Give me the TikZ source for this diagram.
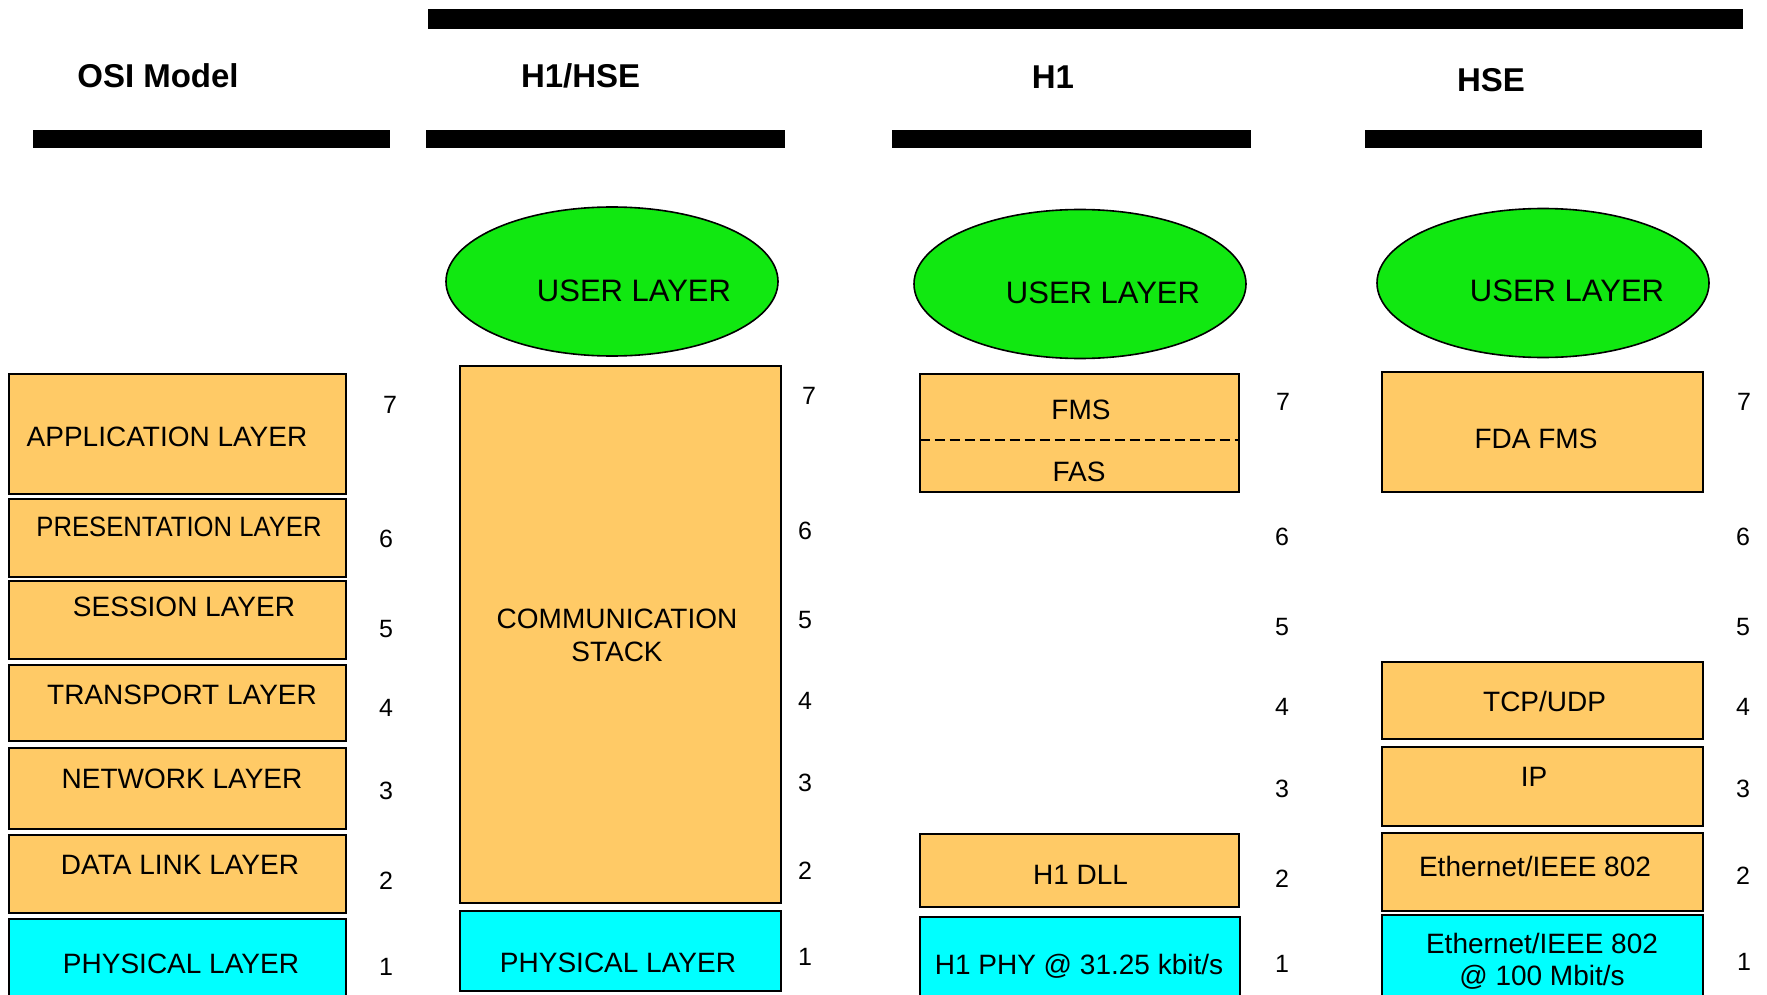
\documentclass[tikz,border=0pt]{standalone}
\usepackage{graphicx}
\usepackage{fontspec}
\setmainfont{Liberation Sans}
\usetikzlibrary{shapes.geometric,fit}
\definecolor{layerorange}{HTML}{FFCA66}
\definecolor{layercyan}{HTML}{00FFFF}
\definecolor{usergreen}{HTML}{11E811}
\tikzset{
  obox/.style={draw=black, line width=1pt, fill=layerorange, inner sep=0pt},
  cbox/.style={draw=black, line width=1pt, fill=layercyan, inner sep=0pt},
  txt/.style={anchor=base, inner sep=0pt, font=\fontsize{14}{16.8}\selectfont},
  num/.style={anchor=base, inner sep=0pt, font=\fontsize{12.5}{15}\selectfont},
  ttl/.style={anchor=base, inner sep=0pt, font=\fontsize{16.5}{19}\selectfont\bfseries},
  usertxt/.style={anchor=base, inner sep=0pt, font=\fontsize{15.5}{18}\selectfont},
  userell/.style={ellipse, draw=black, line width=0.8pt, fill=usergreen, minimum width=166pt, minimum height=74.5pt, inner sep=0pt},
  bar/.style={fill=black, draw=none, inner sep=0pt}
}
\begin{document}
\begin{tikzpicture}[x=0.5pt, y=-0.5pt]
\useasboundingbox (0,0) rectangle (1767,995);
\clip (0,0) rectangle (1767,995);
% bars
\node[bar, fit={(428,9) (1743,29)}] (topbar) {};
\node[bar, fit={(33,130) (390,148)}] (barosi) {};
\node[bar, fit={(426,130) (785,148)}] (barhh) {};
\node[bar, fit={(892,130) (1251,148)}] (barh1) {};
\node[bar, fit={(1365,130) (1702,148)}] (barhse) {};
% titles
\node[ttl] (tosi) at (158,87.5) {OSI Model};
\node[ttl] (thh) at (580.6,87.5) {H1/HSE};
\node[ttl] (th1) at (1053,88.5) {H1};
\node[ttl] (thse) at (1491,91.5) {HSE};
% user layers
\node[userell] (u1) at (612,281.5) {};
\node[usertxt] (u1t) at (634,301) {USER LAYER};
\node[userell] (u2) at (1080,284) {};
\node[usertxt] (u2t) at (1103,303) {USER LAYER};
\node[userell] (u3) at (1543,283) {};
\node[usertxt] (u3t) at (1567,301) {USER LAYER};
% OSI column
\node[obox, fit={(9,374) (346,494)}] (app) {};
\node[txt] (appt) at (167,446) {APPLICATION LAYER};
\node[obox, fit={(9,498.5) (346,577)}] (pres) {};
\node[txt] (prest) at (179,536) {\scalebox{0.916}[1]{PRESENTATION LAYER}};
\node[obox, fit={(9,580.6) (346,658.8)}] (sess) {};
\node[txt] (sesst) at (184,616) {SESSION LAYER};
\node[obox, fit={(9,664.5) (346,740.6)}] (trans) {};
\node[txt] (transt) at (182,704) {TRANSPORT LAYER};
\node[obox, fit={(9,748) (346,829)}] (net) {};
\node[txt] (nett) at (182,788) {NETWORK LAYER};
\node[obox, fit={(9,834.5) (346,912.6)}] (dll) {};
\node[txt] (dllt) at (180,874) {DATA LINK LAYER};
\node[cbox, fit={(9,918.7) (346,1010)}] (phys) {};
\node[txt] (physt) at (181,973) {PHYSICAL LAYER};
\node[num] (o7) at (390,413) {7};
\node[num] (o6) at (386,547) {6};
\node[num] (o5) at (386,637) {5};
\node[num] (o4) at (386,716) {4};
\node[num] (o3) at (386,799) {3};
\node[num] (o2) at (386,889) {2};
\node[num] (o1) at (386,975) {1};
% H1/HSE column
\node[obox, fit={(460,366) (781,902.5)}] (comm) {};
\node[txt] (commt1) at (617,628) {COMMUNICATION};
\node[txt] (commt2) at (617,661.5) {STACK};
\node[cbox, fit={(460,910.6) (781,990.8)}] (hphys) {};
\node[txt] (hphyst) at (618,972) {PHYSICAL LAYER};
\node[num] (a7) at (809,404.6) {7};
\node[num] (a6) at (805,539) {6};
\node[num] (a5) at (805,628) {5};
\node[num] (a4) at (805,709) {4};
\node[num] (a3) at (805,791) {3};
\node[num] (a2) at (805,879) {2};
\node[num] (a1) at (805,965) {1};
% H1 column
\node[obox, fit={(919.6,374) (1239,492)}] (fms) {};
\coordinate (dashl) at (919.6,440);
\coordinate (dashr) at (1239,440);
\draw[line width=1pt, dash pattern=on 5pt off 2.5pt] (dashl) -- (dashr);
\node[txt] (fmst) at (1081,419) {FMS};
\node[txt] (fast) at (1079,481) {FAS};
\node[obox, fit={(919.6,833.7) (1239,906.6)}] (h1dll) {};
\node[txt] (h1dllt) at (1080.5,884) {H1 DLL};
\node[cbox, fit={(919.6,916.7) (1240,1010)}] (h1phy) {};
\node[txt] (h1phyt) at (1079,974) {H1 PHY @ 31.25 kbit/s};
\node[num] (b7) at (1283,410.7) {7};
\node[num] (b6) at (1282,545) {6};
\node[num] (b5) at (1282,635) {5};
\node[num] (b4) at (1282,715) {4};
\node[num] (b3) at (1282,797) {3};
\node[num] (b2) at (1282,887) {2};
\node[num] (b1) at (1282,972) {1};
% HSE column
\node[obox, fit={(1382,372) (1703,492)}] (fda) {};
\node[txt] (fdat) at (1536,448) {FDA FMS};
\node[obox, fit={(1382,661.6) (1703,738.5)}] (tcp) {};
\node[txt] (tcpt) at (1544.6,711) {TCP/UDP};
\node[obox, fit={(1382,746.6) (1703,826.4)}] (ip) {};
\node[txt] (ipt) at (1534,786) {IP};
\node[obox, fit={(1382,832.5) (1703,910.6)}] (eth) {};
\node[txt] (etht) at (1535,876) {Ethernet/IEEE 802};
\node[cbox, fit={(1382,914.7) (1703,1010)}] (ethphy) {};
\node[txt] (ethphyt1) at (1542,953) {Ethernet/IEEE 802};
\node[txt] (ethphyt2) at (1542,985) {@ 100 Mbit/s};
\node[num] (c7) at (1744,410.7) {7};
\node[num] (c6) at (1743,545) {6};
\node[num] (c5) at (1743,635) {5};
\node[num] (c4) at (1743,715) {4};
\node[num] (c3) at (1743,797) {3};
\node[num] (c2) at (1743,884) {2};
\node[num] (c1) at (1744,970) {1};
\end{tikzpicture}
\end{document}
